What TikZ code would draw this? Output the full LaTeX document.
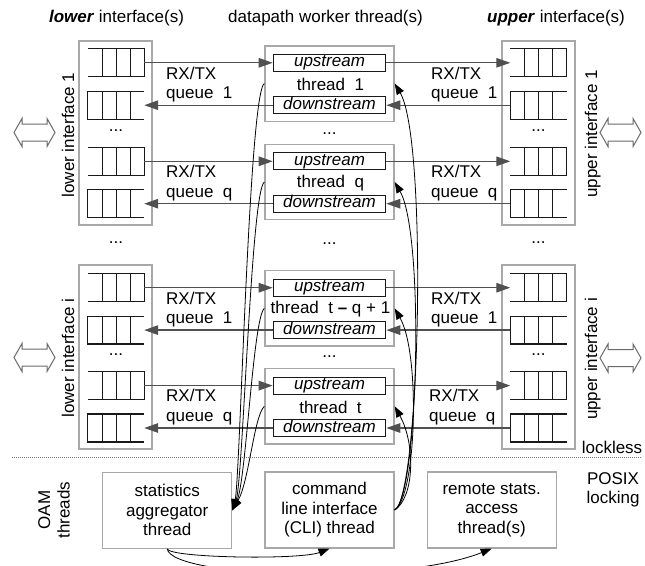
\documentclass[tikz,border=0pt]{standalone}
\usepackage{fontspec}
\setmainfont{Liberation Sans}
\usetikzlibrary{arrows.meta,calc}
\definecolor{boxgray}{RGB}{168,168,168}
\definecolor{arrgray}{RGB}{80,80,80}
\definecolor{qblack}{RGB}{25,25,25}
\definecolor{dblgray}{RGB}{105,105,105}
\definecolor{dotgray}{RGB}{120,120,120}
\newcommand\mainfs{\fontsize{17pt}{19.5pt}\selectfont}
\newcommand\queueRight[3]{%
  \node[qnode] (#1) at (#2,#3) {};
  \draw[qline] (#1.north west) -- (#1.north east) -- (#1.south east) -- (#1.south west);
  \foreach \f in {0.25,0.5,0.75}
    \draw[qdiv] ($(#1.north west)!\f!(#1.north east)$) -- ($(#1.south west)!\f!(#1.south east)$);
}
\newcommand\queueLeft[3]{%
  \node[qnode] (#1) at (#2,#3) {};
  \draw[qline] (#1.north east) -- (#1.north west) -- (#1.south west) -- (#1.south east);
  \foreach \f in {0.25,0.5,0.75}
    \draw[qdiv] ($(#1.north west)!\f!(#1.north east)$) -- ($(#1.south west)!\f!(#1.south east)$);
}
\newcommand\dblArrow[2]{%
  \draw[dblarr] (#1,#2) -- ++(8,-14) -- ++(0,5.5) -- ++(25,0) -- ++(0,-5.5) -- ++(8,14)
    -- ++(-8,14) -- ++(0,-5.5) -- ++(-25,0) -- ++(0,5.5) -- cycle;
}
\begin{document}
\begin{tikzpicture}[x=1pt,y=-1pt,
  every node/.style={font=\mainfs, inner sep=0pt, text=black},
  qnode/.style={minimum width=56pt, minimum height=27.5pt, inner sep=0pt},
  qline/.style={draw=qblack, line width=1.2pt},
  qdiv/.style={draw=qblack, line width=0.8pt},
  grpbox/.style={draw=boxgray, line width=1.4pt, minimum width=73pt, minimum height=184pt},
  thbox/.style={draw=boxgray, line width=1.4pt, minimum width=129pt, minimum height=75.4pt},
  stream/.style={draw=qblack, line width=1.2pt, minimum width=112.4pt, text height=12.6pt, text depth=4.4pt, font=\mainfs\itshape},
  oam/.style={draw=boxgray, line width=1.2pt, minimum width=129pt, minimum height=76pt, align=center},
  data/.style={draw=arrgray, line width=1.3pt, -{Triangle[length=14pt,width=9.5pt]}},
  curve/.style={draw=black, line width=0.8pt, -{Triangle[length=11pt,width=8pt]}},
  dblarr/.style={draw=dblgray, line width=1pt, line join=miter},
]
\useasboundingbox (0,0) rectangle (645,565);

% headers
\node (hlow) at (116.5,18) {\textbf{\textit{lower}} interface(s)};
\node (hmid) at (325.5,18) {datapath worker thread(s)};
\node (hup) at (556,18) {\textbf{\textit{upper}} interface(s)};

% interface group boxes
\node[grpbox] (low1) at (115.5,133) {};
\node[grpbox] (lowi) at (115.5,357) {};
\node[grpbox] (up1) at (538.5,133) {};
\node[grpbox] (upi) at (538.5,357) {};

% interface labels
\node[rotate=90, anchor=base] (llab1) at (74,135) {lower interface 1};
\node[rotate=90, anchor=base] (llabi) at (74,358) {lower interface i};
\node[rotate=90, anchor=base] (ulab1) at (597,134) {upper interface 1};
\node[rotate=90, anchor=base] (ulabi) at (597,359) {upper interface i};

% double arrows
\dblArrow{14}{132.5}
\dblArrow{14}{357.5}
\dblArrow{600}{132.5}
\dblArrow{600}{358}

% dots
\node (ld1) at (116,130.7) {...};
\node (ld2) at (116,243) {...};
\node (ld3) at (116,355) {...};
\node (td1) at (329.5,134) {...};
\node (td2) at (329.5,244) {...};
\node (td3) at (329.5,357) {...};
\node (ud1) at (538.5,130.7) {...};
\node (ud2) at (538.5,243) {...};
\node (ud3) at (538.5,355) {...};

% thread groups
\foreach \g/\c/\thr/\qq/\rx in {a/83.5/1/1/431, b/182/q/q/431, c/308.4/{t \textbf{–} q + 1}/1/431, d/406.3/t/q/429}{
  \node[thbox] (th\g) at (329.5,\c) {};
  \node (tt\g) at (330.5,\c+1) {thread~~\thr};
  \node[stream] (up\g) at (329.5,\c-20.7) {upstream};
  \node[stream] (dn\g) at (329.5,\c+21.7) {downstream};
  \queueRight{lq\g1}{116}{\c-20.7}
  \queueLeft{lq\g2}{116}{\c+21.7}
  \queueRight{uq\g1}{538.5}{\c-20.7}
  \queueLeft{uq\g2}{538.5}{\c+21.7}
  \draw[data] (lq\g1.east) -- (up\g.west);
  \draw[data] (dn\g.west) -- (lq\g2.east);
  \draw[data] (up\g.east) -- (uq\g1.west);
  \draw[data] (uq\g2.west) -- (dn\g.east);
  \node[anchor=west, align=left] (rl\g) at (166,\c+1) {RX/TX\\queue~~\qq};
  \node[anchor=west, align=left] (rr\g) at (\rx,\c+1) {RX/TX\\queue~~\qq};
}

% separator
\draw[dotgray, line width=0.8pt, dash pattern=on 1pt off 1pt] (12,457.5) -- (641,457.5);
\node (lockless) at (612,447) {lockless};
\node[align=center] (posix) at (613,490) {POSIX\\locking};
\node[rotate=90, align=center] (oamlab) at (54,510) {OAM\\threads};

% OAM threads
\node[oam] (stats) at (167.2,510.3) {statistics\\aggregator\\thread};
\node[oam] (cli) at (329.5,510) {command\\line interface\\(CLI) thread};
\node[oam] (remote) at (491.7,510) {remote stats.\\access\\thread(s)};

% statistics curves
\foreach \g/\ya/\xa/\xb in {a/93.5/249/240, b/192/251/243, c/318/253/246, d/416/254/249}
  \draw[curve] (th\g.west) .. controls (\xa,\ya) and (\xb,482) .. (stats.east);

% CLI curves
\foreach \g/\xa/\xb/\yb in {a/420/428/140, b/418/425/235, c/416/421/355, d/414/416/445}
  \draw[curve] (cli.east) .. controls (\xa,498) and (\xb,\yb) .. (th\g.east);

% bottom curves
\draw[curve] (stats.south) .. controls (170,558) and (300,560) .. (cli.south);
\draw[curve] (stats.south) .. controls (172,578) and (400,585) .. (remote.south);
\end{tikzpicture}
\end{document}
